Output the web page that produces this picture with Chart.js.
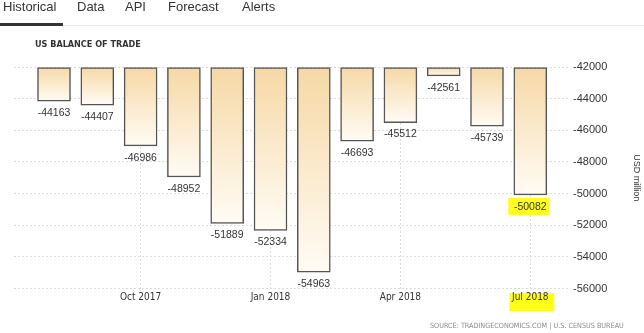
<!DOCTYPE html>
<html>
<head>
<meta charset="utf-8">
<script src="https://cdn.jsdelivr.net/npm/chart.js@4/dist/chart.umd.min.js"></script>
<style>
  html, body { margin: 0; padding: 0; background: #fff; }
  body { width: 644px; height: 333px; position: relative; overflow: hidden; font-family: "Liberation Sans", Arial, sans-serif; color: #333; }
  .tabs span { position: absolute; top: -1px; font-size: 13px; line-height: 15px; color: #333; white-space: nowrap; }
  .tab-rule { position: absolute; left: 0; top: 25px; width: 644px; height: 1px; background: #e6e6e6; }
  .tab-active { position: absolute; left: 0; top: 23px; width: 63px; height: 3px; background: #333; }
  .title { position: absolute; left: 35px; top: 38px; font: bold 9px "Liberation Sans Narrow", "DejaVu Sans Condensed", Arial, sans-serif; line-height: 12px; color: #333; white-space: nowrap; }
  .source { position: absolute; left: 430px; top: 321px; font: 7.2px "Liberation Sans Narrow", "DejaVu Sans Condensed", Arial, sans-serif; line-height: 10px; color: #8a8a8a; white-space: nowrap; }
  #wrap { position: absolute; left: 0; top: 0; width: 644px; height: 333px; }
</style>
</head>
<body>
<div id="wrap"><canvas id="trade-chart"></canvas></div>
<div class="tabs">
  <span style="left:3px">Historical</span>
  <span style="left:77px">Data</span>
  <span style="left:125px">API</span>
  <span style="left:168px">Forecast</span>
  <span style="left:242px">Alerts</span>
</div>
<div class="tab-rule"></div>
<div class="tab-active"></div>
<div class="title">US BALANCE OF TRADE</div>
<div class="source">SOURCE: TRADINGECONOMICS.COM | U.S. CENSUS BUREAU</div>

<script>
const months = ["Aug 2017", "Sep 2017", "Oct 2017", "Nov 2017", "Dec 2017", "Jan 2018",
  "Feb 2018", "Mar 2018", "Apr 2018", "May 2018", "Jun 2018", "Jul 2018"];
const balance = [-44163, -44407, -46986, -48952, -51889, -52334, -54963, -46693, -45512, -42561, -45739, -50082];
const labelledMonths = [2, 5, 8, 11];
const yTicks = [-56000, -54000, -52000, -50000, -48000, -46000, -44000, -42000];
const yMin = -56000;
const yMax = -42000;

const colors = {
  barTop: "#f6d8a5",
  barBottom: "#fffcf5",
  barEdge: "#555555",
  grid: "#dcdcdc",
  text: "#333333",
  marker: "#ffff1a",
};

const latestIndex = balance.length - 1;

function barFill(context) {
  const chart = context.chart;
  if (!chart.chartArea || !context.raw) return colors.barTop;
  const yScale = chart.scales.y;
  const top = yScale.getPixelForValue(yMax);
  const bottom = yScale.getPixelForValue(context.raw.y);
  if (!isFinite(top) || !isFinite(bottom) || bottom <= top) return colors.barTop;
  const gradient = chart.ctx.createLinearGradient(0, top, 0, bottom);
  gradient.addColorStop(0, colors.barTop);
  gradient.addColorStop(1, colors.barBottom);
  return gradient;
}

// value under every bar, the latest one marked
const valueLabels = {
  id: "valueLabels",
  afterDatasetsDraw(chart) {
    const ctx = chart.ctx;
    const meta = chart.getDatasetMeta(0);
    ctx.save();
    ctx.font = '10.5px "Liberation Sans", Arial, sans-serif';
    ctx.textAlign = "center";
    ctx.textBaseline = "middle";
    meta.data.forEach((bar, i) => {
      const y = bar.y + 12;
      if (i === latestIndex) {
        ctx.fillStyle = colors.marker;
        ctx.fillRect(bar.x - 22, y - 9, 41, 17);
      }
      ctx.fillStyle = colors.text;
      ctx.fillText(String(balance[i]), bar.x, y);
    });
    ctx.restore();
  },
};

// marker behind the latest month tick
const tickMarker = {
  id: "tickMarker",
  beforeDraw(chart) {
    const ctx = chart.ctx;
    const x = chart.scales.x.getPixelForValue(latestIndex);
    ctx.save();
    ctx.fillStyle = colors.marker;
    ctx.fillRect(x - 21, chart.chartArea.bottom + 4.5, 45, 18);
    ctx.restore();
  },
};

new Chart(document.getElementById("trade-chart"), {
  type: "bar",
  data: {
    datasets: [{
      data: balance.map((value, i) => ({ x: i, y: value })),
      base: yMax,
      backgroundColor: barFill,
      borderColor: colors.barEdge,
      borderWidth: 1.5,
      borderSkipped: false,
      barThickness: 33,
      clip: 4,
    }],
  },
  options: {
    responsive: true,
    maintainAspectRatio: false,
    animation: false,
    layout: { padding: { top: 67, left: 14, right: 0, bottom: 24.5 } },
    plugins: { legend: { display: false }, tooltip: { enabled: false } },
    scales: {
      x: {
        type: "linear",
        min: -0.924,
        max: 11.917,
        offset: false,
        afterBuildTicks: (scale) => { scale.ticks = labelledMonths.map((v) => ({ value: v })); },
        afterFit: (scale) => { scale.height = 20; },
        ticks: {
          padding: 3,
          autoSkip: false,
          maxRotation: 0,
          color: colors.text,
          font: { family: '"Liberation Sans Narrow", "DejaVu Sans Condensed", Arial, sans-serif', size: 10 },
          callback: (value) => months[value],
        },
        grid: { color: colors.grid, drawTicks: false, offset: false },
        border: { display: false, dash: [2, 2] },
      },
      y: {
        position: "right",
        min: yMin,
        max: yMax,
        afterBuildTicks: (scale) => { scale.ticks = yTicks.map((v) => ({ value: v })); },
        afterFit: (scale) => { scale.width = 74; },
        ticks: {
          padding: 3,
          color: colors.text,
          font: { family: '"Liberation Sans", Arial, sans-serif', size: 11 },
          callback: (value) => String(value),
        },
        grid: { color: colors.grid, drawTicks: false },
        border: { display: false, dash: [2, 2] },
        title: {
          display: true,
          text: "USD million",
          color: colors.text,
          padding: { top: 2, bottom: 0 },
          font: { family: '"Liberation Sans", Arial, sans-serif', size: 9 },
        },
      },
    },
  },
  plugins: [tickMarker, valueLabels],
});
</script>
</body>
</html>
